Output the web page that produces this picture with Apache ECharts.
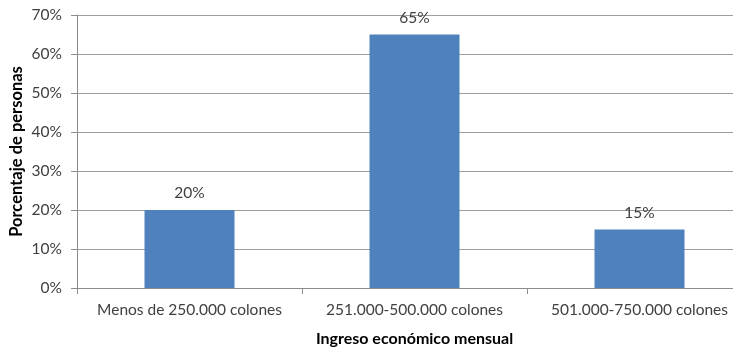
<!DOCTYPE html>
<html>
<head>
<meta charset="utf-8">
<script src="https://cdn.jsdelivr.net/npm/echarts@6/dist/echarts.min.js"></script>
<style>
  html, body { margin: 0; padding: 0; background: #fff; }
  #chart { width: 733px; height: 348px; }
</style>
</head>
<body>
<div id="chart"></div>
<script>
// Monthly income brackets and share of respondents (%)
const categories = ['Menos de 250.000 colones', '251.000-500.000 colones', '501.000-750.000 colones'];
const percentages = [20, 65, 15];
const yTicks = { min: 0, max: 70, interval: 10 };

const FONT = 'Lato, "Open Sans", sans-serif';
const TEXT = '#404040';
const LINE = '#8c8c8c';

const chart = echarts.init(document.getElementById('chart'));
chart.setOption({
  animation: false,
  grid: { left: 77, top: 15, width: 675, height: 273, containLabel: false, outerBoundsMode: 'none' },
  xAxis: {
    type: 'category',
    data: categories,
    name: 'Ingreso económico mensual',
    nameLocation: 'middle',
    nameGap: 43,
    nameTextStyle: { fontFamily: FONT, fontSize: 16, fontWeight: 'bold', color: '#000' },
    axisLine: { lineStyle: { color: LINE, width: 1 } },
    axisTick: { show: true, alignWithLabel: false, length: 6, lineStyle: { color: LINE } },
    axisLabel: { interval: 0, fontFamily: FONT, fontSize: 15.5, color: TEXT, margin: 14 },
    splitLine: { show: false }
  },
  yAxis: {
    type: 'value',
    min: yTicks.min,
    max: yTicks.max,
    interval: yTicks.interval,
    name: 'Porcentaje de personas',
    nameLocation: 'middle',
    nameGap: 52,
    nameMoveOverlap: false,
    nameRotate: 90,
    nameTextStyle: { fontFamily: FONT, fontSize: 16.5, fontWeight: 'bold', color: '#000' },
    axisLine: { show: true, lineStyle: { color: LINE, width: 1 } },
    axisTick: { show: true, length: 6, lineStyle: { color: LINE } },
    axisLabel: { fontFamily: FONT, fontSize: 15.5, color: TEXT, margin: 15, formatter: '{value}%' },
    splitLine: { show: true, lineStyle: { color: '#9d9d9d', width: 1 } }
  },
  series: [{
    type: 'bar',
    data: percentages,
    barWidth: '40%',
    itemStyle: { color: '#4f81bd' },
    label: {
      show: true,
      position: 'top',
      distance: 9,
      formatter: '{c}%',
      fontFamily: FONT,
      fontSize: 15.5,
      color: TEXT
    }
  }]
});
</script>
</body>
</html>
